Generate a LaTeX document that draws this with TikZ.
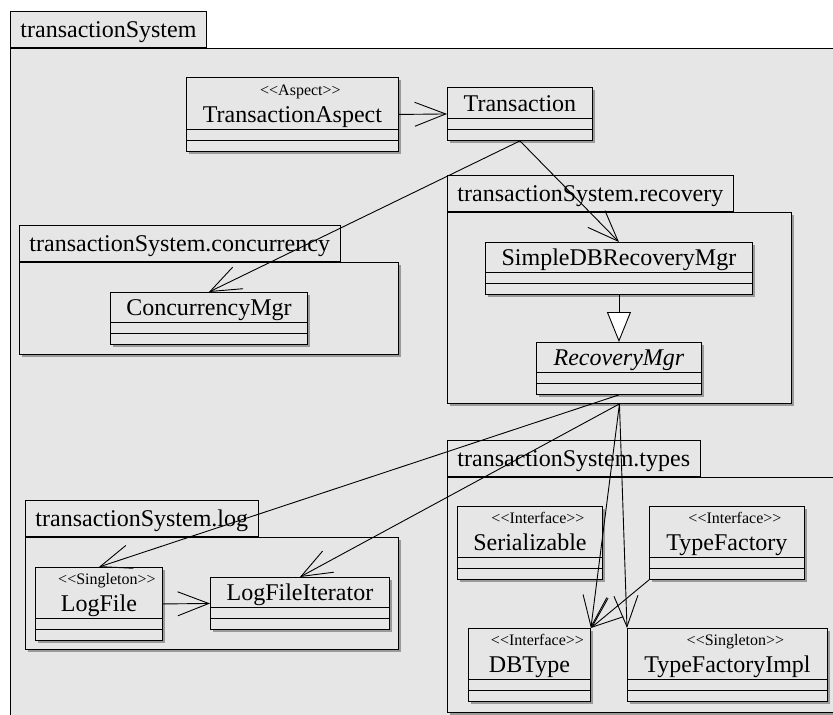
\documentclass[tikz,border=0pt]{standalone}
\usepackage{fontspec}
\setmainfont{Liberation Serif}
\usetikzlibrary{arrows.meta,shadows}

\definecolor{umlgray}{HTML}{E6E6E6}
\definecolor{umlshade}{HTML}{9A9A9A}

\tikzset{
  umlline/.style={line width=.9pt},
  umlshadow/.style={drop shadow={shadow xshift=2.6pt,shadow yshift=-2.6pt,fill=umlshade,opacity=1}},
  pkgbody/.style={draw,fill=umlgray,umlline,inner sep=0pt,anchor=north west},
  pkgtab/.style={draw,fill=umlgray,umlline,anchor=south west,inner xsep=10pt,inner ysep=0pt,
    minimum height=36pt,text height=18pt,text depth=2pt,font=\fontsize{24}{28}\selectfont},
  umlclass/.style={draw,fill=umlgray,umlline,inner sep=0pt,anchor=north west,umlshadow},
  classname/.style={anchor=base,inner sep=0pt,font=\fontsize{24}{28}\selectfont},
  stereo/.style={anchor=base,inner sep=0pt,font=\fontsize{16}{19}\selectfont},
  assoc/.style={umlline,-{Straight Barb[length=31pt,width=24pt,line width=.9pt]}},
  gen/.style={umlline,-{Triangle[length=30pt,width=24pt,fill=white,line width=.9pt]}}
}

\begin{document}
\begin{tikzpicture}[x=1pt,y=-1pt]
  \useasboundingbox (0,0) rectangle (833,715);
  \clip (0,0) rectangle (833,715);
  \fill[white] (0,0) rectangle (833,715);

  % outer package
  \node[pkgbody,minimum width=840pt,minimum height=700pt] (sys) at (10,48) {};
  \node[pkgtab] (sysTab) at (sys.north west) {transactionSystem};

  % nested packages
  \node[pkgbody,umlshadow,minimum width=344pt,minimum height=191pt] (rec) at (447,212) {};
  \node[pkgtab] (recTab) at (rec.north west) {transactionSystem.recovery};
  \node[pkgbody,umlshadow,minimum width=379pt,minimum height=92pt] (conc) at (19,262) {};
  \node[pkgtab] (concTab) at (conc.north west) {transactionSystem.concurrency};
  \node[pkgbody,umlshadow,minimum width=373pt,minimum height=112pt] (log) at (25,537) {};
  \node[pkgtab] (logTab) at (log.north west) {transactionSystem.log};
  \node[pkgbody,umlshadow,minimum width=400pt,minimum height=235pt] (types) at (447,477) {};
  \node[pkgtab] (typesTab) at (types.north west) {transactionSystem.types};

  % classes
  \node[umlclass,minimum width=212pt,minimum height=74pt] (tA) at (186,77) {};
  \node[stereo] (tA-st) at ([shift={(8pt,-18pt)}]tA.north) {{<}{<}Aspect{>}{>}};
  \node[classname] (tA-n) at ([yshift=29pt]tA.south) {TransactionAspect};

  \node[umlclass,minimum width=145pt,minimum height=53pt] (tx) at (447,87) {};
  \node[classname] (tx-n) at ([yshift=29pt]tx.south) {Transaction};

  \node[umlclass,minimum width=197pt,minimum height=52pt] (cMgr) at (110,292) {};
  \node[classname] (cMgr-n) at ([yshift=29pt]cMgr.south) {ConcurrencyMgr};

  \node[umlclass,minimum width=267pt,minimum height=52pt] (sdb) at (485,242) {};
  \node[classname] (sdb-n) at ([yshift=29pt]sdb.south) {SimpleDBRecoveryMgr};

  \node[umlclass,minimum width=165pt,minimum height=52pt] (rMgr) at (536,342) {};
  \node[classname] (rMgr-n) at ([yshift=29pt]rMgr.south) {\itshape RecoveryMgr};

  \node[umlclass,minimum width=127pt,minimum height=73pt] (logFile) at (35,567) {};
  \node[stereo] (logFile-st) at ([shift={(8pt,-17pt)}]logFile.north) {{<}{<}Singleton{>}{>}};
  \node[classname] (logFile-n) at ([yshift=29pt]logFile.south) {LogFile};

  \node[umlclass,minimum width=179pt,minimum height=52pt] (logIt) at (210,577) {};
  \node[classname] (logIt-n) at ([yshift=29pt]logIt.south) {LogFileIterator};

  \node[umlclass,minimum width=145pt,minimum height=73pt] (ser) at (457,506) {};
  \node[stereo] (ser-st) at ([shift={(8pt,-17pt)}]ser.north) {{<}{<}Interface{>}{>}};
  \node[classname] (ser-n) at ([yshift=29pt]ser.south) {Serializable};

  \node[umlclass,minimum width=155pt,minimum height=73pt] (tFac) at (649,506) {};
  \node[stereo] (tFac-st) at ([shift={(8pt,-17pt)}]tFac.north) {{<}{<}Interface{>}{>}};
  \node[classname] (tFac-n) at ([yshift=29pt]tFac.south) {TypeFactory};

  \node[umlclass,minimum width=122pt,minimum height=73pt] (dbType) at (468,628) {};
  \node[stereo] (dbType-st) at ([shift={(8pt,-17pt)}]dbType.north) {{<}{<}Interface{>}{>}};
  \node[classname] (dbType-n) at ([yshift=29pt]dbType.south) {DBType};

  \node[umlclass,minimum width=200pt,minimum height=73pt] (tfImpl) at (627,628) {};
  \node[stereo] (tfImpl-st) at ([shift={(8pt,-17pt)}]tfImpl.north) {{<}{<}Singleton{>}{>}};
  \node[classname] (tfImpl-n) at ([yshift=29pt]tfImpl.south) {TypeFactoryImpl};

  % attribute and operation compartments
  \foreach \c in {tA,tx,cMgr,sdb,rMgr,logFile,logIt,ser,tFac,dbType,tfImpl}
    \draw[umlline] ([yshift=22pt]\c.south west) -- ([yshift=22pt]\c.south east)
                   ([yshift=11pt]\c.south west) -- ([yshift=11pt]\c.south east);

  % associations
  \draw[assoc] (tA.east) -- (tx.west);
  \draw[assoc] (tx.south) -- (cMgr.north);
  \draw[assoc] (tx.south) -- (sdb.north);
  \draw[gen] (sdb.south) -- (rMgr.north);
  \draw[assoc] (rMgr.south) -- (logFile.north);
  \draw[assoc] (rec.south) -- (logIt.north);
  \draw[assoc] (rec.south) -- (dbType.north east);
  \draw[assoc] (rec.south) -- (tfImpl.north west);
  \draw[assoc] (tFac.south west) -- (dbType.north east);
  \draw[assoc] (logFile.east) -- (logIt.west);
\end{tikzpicture}
\end{document}
